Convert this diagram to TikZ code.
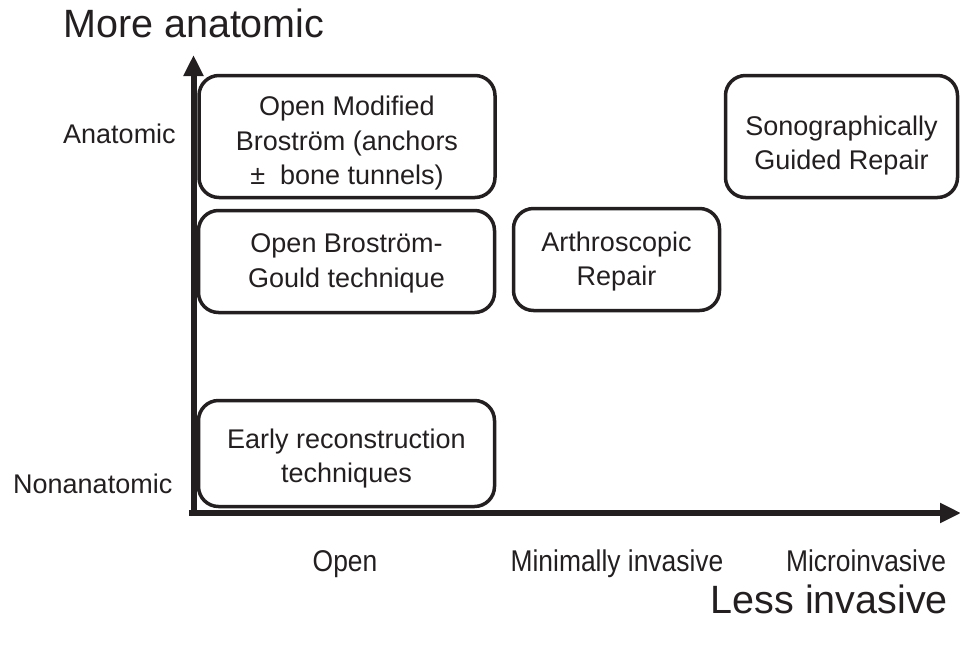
\documentclass[tikz,border=0pt]{standalone}
\usepackage{fontspec}
\setmainfont{Liberation Sans}
\newfontfamily\narrowfont[FakeStretch=0.88]{Liberation Sans}
\usetikzlibrary{arrows.meta}
\definecolor{ink}{RGB}{35,31,32}
\tikzset{
  box/.style={draw=ink, line width=3.5pt, rounded corners=20pt, rectangle, inner sep=0pt},
  boxtext/.style={align=center, text=ink, font=\fontsize{27}{34.5}\selectfont, inner sep=0pt},
  axis/.style={draw=ink, line width=6pt, -{Triangle[length=21pt,width=19pt]}},
  axlabel/.style={text=ink, font=\fontsize{27}{34}\selectfont, inner sep=0pt},
  catlabel/.style={text=ink, font=\narrowfont\fontsize{30}{36}\selectfont, inner sep=0pt},
  title/.style={text=ink, font=\fontsize{39.5}{46}\selectfont, inner sep=0pt}
}
\begin{document}
\begin{tikzpicture}[x=1pt,y=-1pt]
\useasboundingbox (0,0) rectangle (960,646);
% axes
\coordinate (ybot) at (193.5,516);
\coordinate (ytip) at (193.5,55);
\coordinate (xleft) at (189,513);
\coordinate (xtip) at (961,513);
\draw[axis] (ybot) -- (ytip);
\draw[axis] (xleft) -- (xtip);
% titles
\node[title, anchor=base west] (more) at (63,37) {More anatomic};
\node[title, anchor=base east] (less) at (948,613) {Less invasive};
% axis labels
\node[axlabel, anchor=base west] (anat) at (63,143) {Anatomic};
\node[axlabel, anchor=base west] (nonanat) at (13,493) {Nonanatomic};
\node[catlabel, anchor=base] (open) at (345,571) {Open};
\node[catlabel, anchor=base] (mini) at (617,571) {Minimally invasive};
\node[catlabel, anchor=base] (micro) at (866,571) {Microinvasive};
% boxes
\node[box, minimum width=296pt, minimum height=122pt] (b1) at (347,136.5) {};
\node[box, minimum width=296pt, minimum height=102pt] (b2) at (346.5,261.5) {};
\node[box, minimum width=206pt, minimum height=102pt] (b3) at (616.5,259.5) {};
\node[box, minimum width=232pt, minimum height=122pt] (b4) at (841.5,136.5) {};
\node[box, minimum width=296pt, minimum height=106pt] (b5) at (346.5,453.5) {};
% box texts
\node[boxtext] (t1) at ([yshift=-7pt]b1.center)
  {Open Modified\\Broström (anchors\\±\ \ bone tunnels)};
\node[boxtext] (t2) at ([yshift=-2pt]b2.center) {Open Broström-\\Gould technique};
\node[boxtext] (t3) at ([yshift=-2pt]b3.center) {Arthroscopic\\Repair};
\node[boxtext] (t4) at ([yshift=-9pt]b4.center) {Sonographically\\Guided Repair};
\node[boxtext] (t5) at ([yshift=-5pt]b5.center) {Early reconstruction\\techniques};
\end{tikzpicture}
\end{document}
